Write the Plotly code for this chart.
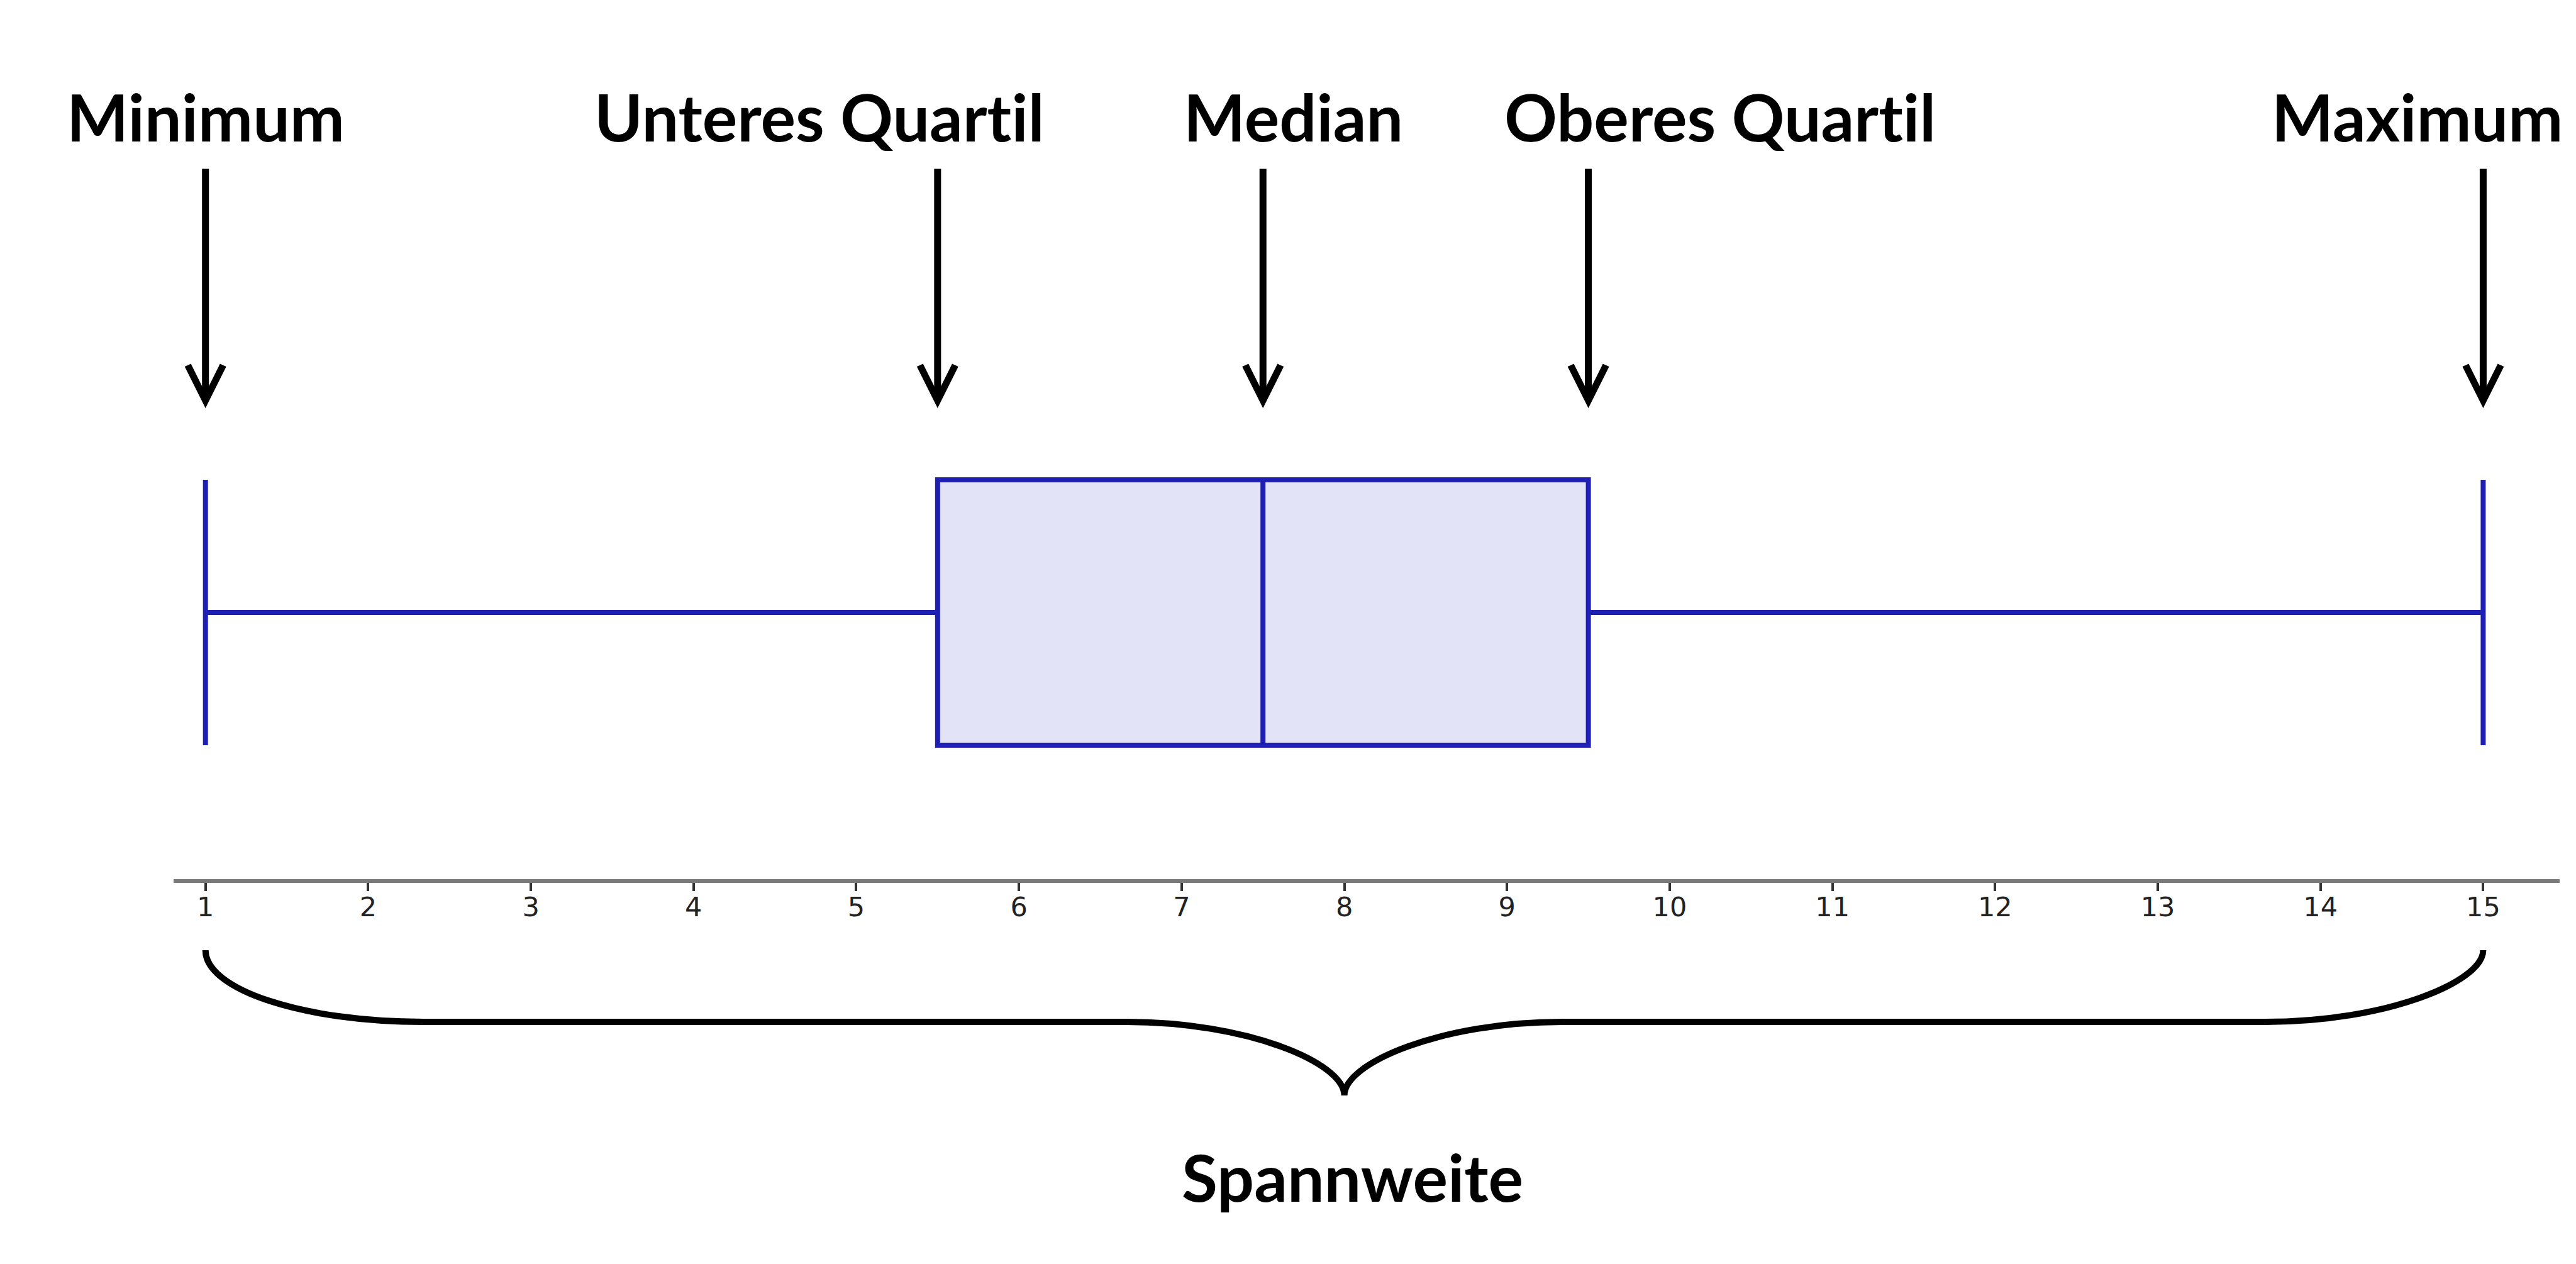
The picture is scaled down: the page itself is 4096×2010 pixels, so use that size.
import plotly.graph_objects as go

# ---- data (five-number summary) ----
stat_names = ["Minimum", "Unteres Quartil", "Median", "Oberes Quartil", "Maximum"]
stat_values = [1, 5.5, 7.5, 9.5, 15]
tick_values = list(range(1, 16))
tick_labels = [str(v) for v in tick_values]
range_label = "Spannweite"

vmin, q1, med, q3, vmax = stat_values

W, H = 4096, 2010

# ---- styling / layout constants (pixels measured from the top) ----
def Y(px_from_top):
    return H - px_from_top

def no_lig(s):
    # zero-width non-joiner keeps Lato from forming the "ti" ligature
    return s.replace("ti", "t\u200ci")

BLUE = "#1f1fb4"
FILL = "#e2e3f6"
LABEL_FONT = dict(family="Lato", size=104, color="black", weight=700)
label_xshift = [0, -188, 48, 209, -105]

box_center = Y(966)
box_height = 422
arrow_tail = Y(259)
arrow_tip = Y(641)
label_mid = Y(176)

fig = go.Figure()

fig.add_trace(go.Box(
    q1=[q1], median=[med], q3=[q3], lowerfence=[vmin], upperfence=[vmax],
    y=[box_center], orientation="h", width=box_height, whiskerwidth=1,
    fillcolor=FILL, line=dict(color=BLUE, width=8),
    boxpoints=False, hoverinfo="skip", showlegend=False,
))

annotations = []
for name, val, dx in zip(stat_names, stat_values, label_xshift):
    annotations.append(dict(
        x=val, y=arrow_tip, ax=val, ay=arrow_tail, xref="x", yref="y",
        axref="x", ayref="y", text="", showarrow=True, arrowhead=5,
        arrowsize=1.0, arrowwidth=11, arrowcolor="black", standoff=0,
    ))
    annotations.append(dict(
        x=val, y=label_mid, xref="x", yref="y", text=no_lig(name), showarrow=False,
        xshift=dx, xanchor="center", yanchor="middle", font=LABEL_FONT,
    ))

mid = (vmin + vmax) / 2
annotations.append(dict(
    x=mid, y=Y(1862), xref="x", yref="y", text=no_lig(range_label), showarrow=False,
    xshift=13, xanchor="center", yanchor="middle", font=LABEL_FONT,
))

# ---- curly brace under the axis ----
rx = 1.34          # horizontal radius of brace curls (axis units)
yt, yh, yb = Y(1503), Y(1617), Y(1734)
k = 0.5523
path = (
    f"M {vmin},{yt} "
    f"C {vmin},{yt - k*(yt-yh)} {vmin + rx - k*rx},{yh} {vmin + rx},{yh} "
    f"L {mid - rx},{yh} "
    f"C {mid - rx + k*rx},{yh} {mid},{yh - k*(yh-yb)} {mid},{yb} "
    f"C {mid},{yh - k*(yh-yb)} {mid + rx - k*rx},{yh} {mid + rx},{yh} "
    f"L {vmax - rx},{yh} "
    f"C {vmax - rx + k*rx},{yh} {vmax},{yh + k*(yt-yh)} {vmax},{yt}"
)
shapes = [dict(type="path", xref="x", yref="y", path=path,
               line=dict(color="black", width=10))]

fig.update_layout(
    width=W, height=H,
    margin=dict(l=268, r=34, t=0, b=0, pad=0),
    paper_bgcolor="white", plot_bgcolor="white",
    showlegend=False,
    annotations=annotations,
    shapes=shapes,
    xaxis=dict(
        range=[0.804, 15.47], tickmode="array", tickvals=tick_values,
        ticktext=tick_labels, showgrid=False, zeroline=False,
        showline=True, linecolor="#7a7a7a", linewidth=6,
        ticks="outside", ticklen=13, tickwidth=4, tickcolor="#333333",
        tickfont=dict(family="DejaVu Sans", size=43, color="#222222"),
        ticklabelstandoff=-12,
        anchor="free", position=(H - 1393) / H,
        fixedrange=True,
    ),
    yaxis=dict(range=[0, H], visible=False, fixedrange=True),
)

fig.write_html("out.html", config={"displayModeBar": False})
